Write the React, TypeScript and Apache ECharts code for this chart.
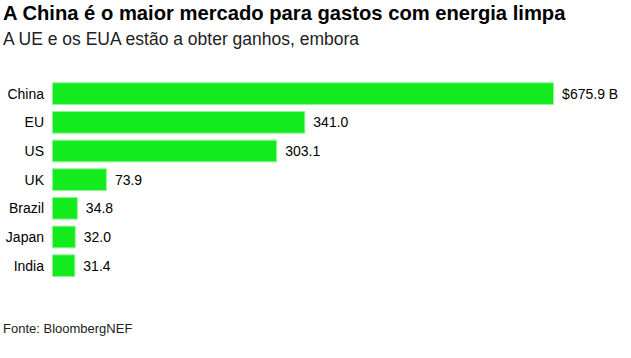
import React, { useEffect, useRef } from "react";
import * as echarts from "echarts";

const categories = ["China", "EU", "US", "UK", "Brazil", "Japan", "India"];
const values = [675.9, 341.0, 303.1, 73.9, 34.8, 32.0, 31.4];
const titleText = "A China é o maior mercado para gastos com energia limpa";
const subtitleText = "A UE e os EUA estão a obter ganhos, embora";
const sourceText = "Fonte: BloombergNEF";

const FONT = "'Liberation Sans', Arial, Helvetica, sans-serif";

export default function App() {
  const ref = useRef<HTMLDivElement>(null);
  useEffect(() => {
    if (!ref.current) return;
    const chart = echarts.init(ref.current, undefined, { renderer: "svg" });
    chart.setOption({
      animation: false,
      backgroundColor: "#ffffff",
      textStyle: { fontFamily: FONT },
      grid: { left: 52, width: 520, top: 79.3, height: 200.7, containLabel: false },
      xAxis: {
        type: "value",
        min: 0,
        max: 700,
        show: false,
        splitLine: { show: false },
      },
      yAxis: {
        type: "category",
        data: categories,
        inverse: true,
        axisLine: { show: false },
        axisTick: { show: false },
        axisLabel: { margin: 8, fontSize: 14, color: "#000000", fontFamily: FONT },
      },
      series: [
        {
          type: "bar",
          data: values,
          barCategoryGap: "21%",
          itemStyle: { color: "#14EB1E", borderColor: "#8ef592", borderWidth: 1 },
          label: {
            show: true,
            position: "right",
            distance: 8,
            fontSize: 14,
            color: "#000000",
            fontFamily: FONT,
            formatter: (p: any) =>
              p.dataIndex === 0 ? "$" + p.value.toFixed(1) + " B" : p.value.toFixed(1),
          },
        },
      ],
      graphic: [
        {
          type: "text",
          left: 3,
          top: 3,
          style: { text: titleText, font: `bold 20.2px ${FONT}`, fill: "#000000" },
        },
        {
          type: "text",
          left: 3,
          top: 30,
          style: { text: subtitleText, font: `17.5px ${FONT}`, fill: "#222222" },
        },
        {
          type: "text",
          left: 3,
          top: 322,
          style: { text: sourceText, font: `13px ${FONT}`, fill: "#222222" },
        },
      ],
    });
    return () => chart.dispose();
  }, []);
  return (
    <div
      ref={ref}
      style={{ position: "fixed", left: 0, top: 0, width: 631, height: 358 }}
    />
  );
}
